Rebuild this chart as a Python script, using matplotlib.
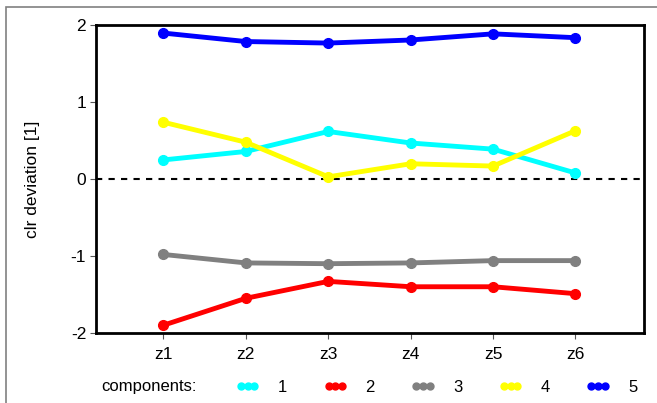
import numpy as np
import matplotlib.pyplot as plt
from matplotlib.lines import Line2D
from matplotlib.patches import Rectangle

plt.rcParams['font.family'] = ['Liberation Sans', 'DejaVu Sans']

# data
samples = ['z1', 'z2', 'z3', 'z4', 'z5', 'z6']
comp1 = [0.25, 0.36, 0.62, 0.47, 0.39, 0.08]
comp2 = [-1.90, -1.55, -1.33, -1.40, -1.40, -1.49]
comp3 = [-0.98, -1.09, -1.10, -1.09, -1.06, -1.06]
comp4 = [0.74, 0.48, 0.03, 0.20, 0.17, 0.63]
comp5 = [1.90, 1.79, 1.77, 1.81, 1.89, 1.84]
labels = ['1', '2', '3', '4', '5']
colors = ['#00ffff', '#ff0000', '#808080', '#ffff00', '#0000ff']

series = [comp1, comp2, comp3, comp4, comp5]
x = np.arange(1, len(samples) + 1)

fig = plt.figure(figsize=(6.57, 4.03), dpi=100)
ax = fig.add_axes([0.146, 0.174, 0.834, 0.763])

# grey frame round the figure (only top and left are visible)
fig.patches.append(Rectangle((6 / 657, -0.5), 2, 1.5 - 7 / 403,
                             transform=fig.transFigure, fill=False,
                             edgecolor='#808080', linewidth=1.2))

ax.axhline(0, color='black', linestyle=(0, (3, 3)), linewidth=1.5, zorder=1)

handles = []
for vals, col, lab in zip(series, colors, labels):
    ax.plot(x, vals, color=col, linewidth=3.5, marker='o', markersize=7, zorder=2)
    handles.append(Line2D([0], [0], color=col, linewidth=3, marker='o',
                          markersize=5))

ax.set_xlim(0.18, 6.83)
ax.set_ylim(-2, 2)
ax.set_xticks(x)
ax.set_xticklabels(samples)
ax.set_yticks([-2, -1, 0, 1, 2])
ax.set_yticklabels(['-2', '-1', '0', '1', '2'])
ax.tick_params(labelsize=12.5, length=4, width=0.8, color='#555555', pad=3)
ax.tick_params(axis='x', pad=6)
for sp in ax.spines.values():
    sp.set_linewidth(2)
ax.set_ylabel('clr deviation [1]', fontsize=12.5)
ax.yaxis.set_label_coords(-0.102, 0.5)

fig.text(101 / 657, 1 - 387 / 403, 'components:', fontsize=12, va='center')
fig.legend(handles, labels, ncol=5, loc='center left',
           bbox_to_anchor=(236 / 657, 1 - 387 / 403), frameon=False,
           fontsize=12, numpoints=3, handlelength=1.4, handletextpad=1.1,
           columnspacing=2.2, borderaxespad=0, borderpad=0)

fig.savefig('out.png', dpi=100)
